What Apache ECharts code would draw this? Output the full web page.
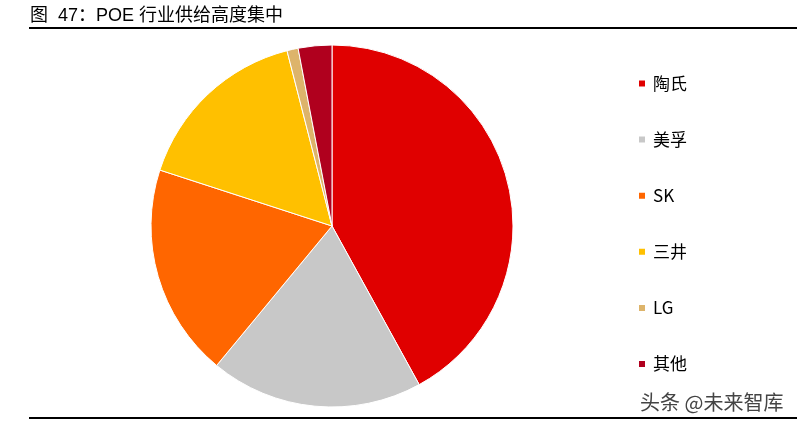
<!DOCTYPE html>
<html><head><meta charset="utf-8">
<script src="https://cdn.jsdelivr.net/npm/echarts@6/dist/echarts.min.js"></script>
<style>html,body{margin:0;padding:0;background:#fff}#c{width:797px;height:426px}</style>
</head><body><div id="c"></div>
<script>
const categories = ['陶氏','美孚','SK','三井','LG','其他'];
const values = [42, 19, 19, 16, 1, 3];
const colors = ['#E00000','#C8C8C8','#FF6600','#FFC000','#DDB46B','#B0001E'];
const titleText = '图  47：POE 行业供给高度集中';
const sourceText = '头条 @未来智库';

const chart = echarts.init(document.getElementById('c'));
chart.setOption({
  animation: false,
  color: colors,
  title: {text: titleText, left: 30, top: 7.5, padding: 0, textStyle: {fontSize: 18, lineHeight: 18, fontWeight: 'normal', color: '#000', fontFamily: 'Liberation Sans, Noto Sans CJK SC, sans-serif'}},
  legend: {
    orient: 'vertical', left: 637, top: 75, padding: 0, itemWidth: 8, itemHeight: 8, itemGap: 39.1,
    icon: 'rect',
    textStyle: {fontSize: 17, lineHeight: 17, color: '#000', fontFamily: 'Noto Sans CJK SC, sans-serif', padding: [0,0,0,2]},
    data: categories
  },
  graphic: [
    {type: 'line', shape: {x1: 29, y1: 28, x2: 797, y2: 28}, style: {stroke: '#000', lineWidth: 2}},
    {type: 'line', shape: {x1: 29, y1: 418, x2: 797, y2: 418}, style: {stroke: '#000', lineWidth: 2}},
    {type: 'text', left: 640, top: 392, style: {text: sourceText, fontSize: 20, fill: '#444', fontFamily: 'Noto Sans CJK SC, sans-serif'}}
  ],
  series: [{
    type: 'pie', center: [332, 226], radius: 181, startAngle: 90, clockwise: true,
    label: {show: false}, labelLine: {show: false},
    itemStyle: {borderColor: '#fff', borderWidth: 1},
    emphasis: {disabled: true},
    data: categories.map((n, i) => ({name: n, value: values[i]}))
  }]
});
</script></body></html>
